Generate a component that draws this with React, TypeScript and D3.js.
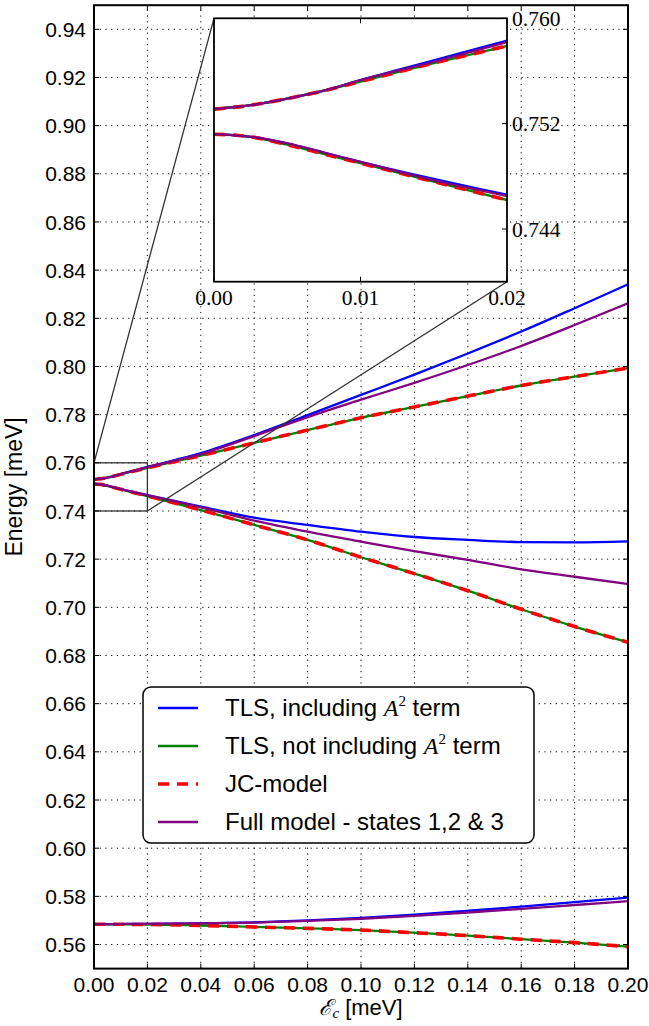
import React, { useEffect } from 'react';
import * as d3 from 'd3';

const xs = [0, 0.0025, 0.005, 0.0075, 0.01, 0.015, 0.02, 0.04, 0.06, 0.08, 0.10, 0.12, 0.14, 0.16, 0.18, 0.20];

// TLS, including A^2 term (blue)
const tlsA2Upper = [0.7531, 0.7534, 0.7539, 0.7545, 0.7553, 0.7568, 0.7583, 0.7640, 0.7715, 0.7798, 0.7882, 0.7966, 0.8054, 0.8145, 0.8242, 0.8341];
const tlsA2Lower = [0.7512, 0.7510, 0.7505, 0.7498, 0.7491, 0.7478, 0.7466, 0.7418, 0.7372, 0.7342, 0.7314, 0.7292, 0.7280, 0.7271, 0.7270, 0.7274];
const tlsA2Ground = [0.5685, 0.5685, 0.5685, 0.5685, 0.5685, 0.5686, 0.5686, 0.5688, 0.5692, 0.5700, 0.5711, 0.5724, 0.5740, 0.5757, 0.5776, 0.5795];

// TLS, not including A^2 term (green)
const tlsUpper = [0.7531, 0.7534, 0.7539, 0.7545, 0.7552, 0.7566, 0.7579, 0.7630, 0.7683, 0.7736, 0.7787, 0.7832, 0.7877, 0.7921, 0.7958, 0.7993];
const tlsLower = [0.7512, 0.7510, 0.7504, 0.7497, 0.7490, 0.7476, 0.7462, 0.7404, 0.7342, 0.7280, 0.7208, 0.7140, 0.7069, 0.6992, 0.6920, 0.6855];
const tlsGround = [0.5684, 0.5684, 0.5684, 0.5684, 0.5684, 0.5683, 0.5683, 0.5679, 0.5673, 0.5667, 0.5660, 0.5649, 0.5637, 0.5622, 0.5608, 0.5591];

// JC-model (red dashed)
const jcUpper = [0.7531, 0.7534, 0.7539, 0.7545, 0.7552, 0.7566, 0.7579, 0.7630, 0.7683, 0.7736, 0.7787, 0.7832, 0.7877, 0.7921, 0.7958, 0.7993];
const jcLower = [0.7512, 0.7510, 0.7504, 0.7497, 0.7490, 0.7476, 0.7462, 0.7404, 0.7342, 0.7280, 0.7208, 0.7140, 0.7069, 0.6992, 0.6920, 0.6855];
const jcGround = [0.5684, 0.5684, 0.5684, 0.5684, 0.5684, 0.5683, 0.5683, 0.5679, 0.5673, 0.5667, 0.5660, 0.5649, 0.5637, 0.5622, 0.5608, 0.5591];

// Full model - states 1,2 & 3 (purple)
const fullUpper = [0.7531, 0.7534, 0.7539, 0.7545, 0.7553, 0.7567, 0.7582, 0.7636, 0.7711, 0.7790, 0.7862, 0.7932, 0.8006, 0.8085, 0.8172, 0.8262];
const fullLower = [0.7512, 0.7510, 0.7505, 0.7498, 0.7491, 0.7477, 0.7465, 0.7415, 0.7360, 0.7314, 0.7273, 0.7233, 0.7197, 0.7158, 0.7127, 0.7097];
const fullGround = [0.5685, 0.5685, 0.5685, 0.5685, 0.5685, 0.5686, 0.5686, 0.5688, 0.5691, 0.5698, 0.5707, 0.5719, 0.5733, 0.5748, 0.5764, 0.5780];

const xTicks = [0, 0.02, 0.04, 0.06, 0.08, 0.10, 0.12, 0.14, 0.16, 0.18, 0.20];
const yTicks = [0.56, 0.58, 0.60, 0.62, 0.64, 0.66, 0.68, 0.70, 0.72, 0.74, 0.76, 0.78, 0.80, 0.82, 0.84, 0.86, 0.88, 0.90, 0.92, 0.94];
const insetXTicks = [0, 0.01, 0.02];
const insetYTicks = [0.744, 0.752, 0.760];

const W = 649, H = 1026;
const sans = '"Liberation Sans", Arial, Helvetica, sans-serif';
const serif = '"Liberation Serif", "DejaVu Serif", serif';

const series = [
  { label: 'blue', color: '#0000ff', width: 2.3, dash: null, data: [tlsA2Upper, tlsA2Lower, tlsA2Ground] },
  { label: 'green', color: '#008000', width: 2.3, dash: null, data: [tlsUpper, tlsLower, tlsGround] },
  { label: 'red', color: '#ff0000', width: 3.6, dash: '11 8', data: [jcUpper, jcLower, jcGround] },
  { label: 'purple', color: '#800080', width: 2.3, dash: null, data: [fullUpper, fullLower, fullGround] },
];

const App = () => {
  useEffect(() => {
    document.body.style.margin = '0';
  }, []);

  // main axes
  const x = d3.scaleLinear().domain([0, 0.2]).range([94, 628]);
  const y = d3.scaleLinear().domain([0.55, 0.95]).range([968.6, 5.2]);
  // inset axes
  const ix = d3.scaleLinear().domain([0, 0.02]).range([214, 507]);
  const iy = d3.scaleLinear().domain([0.74, 0.76]).range([281.7, 18.3]);

  const line = (sx, sy) => d3.line<number>()
    .x((_, i) => sx(xs[i]))
    .y(d => sy(d))
    .curve(d3.curveMonotoneX);
  const mainLine = line(x, y);
  const insetLine = line(ix, iy);

  const [x0, x1] = x.range();
  const [y0, y1] = y.range(); // y0 bottom, y1 top
  const tk = 5;

  const drawSeries = (gen, key) => series.map(s => s.data.map((d, j) => (
    <path key={`${key}-${s.label}-${j}`} d={gen(d)} fill="none" stroke={s.color}
      strokeWidth={s.width} strokeDasharray={s.dash || undefined} />
  )));

  const legendRows = [
    { color: '#0000ff', dash: null, w: 2.3 },
    { color: '#008000', dash: null, w: 2.3 },
    { color: '#ff0000', dash: '11 8', w: 3.6 },
    { color: '#800080', dash: null, w: 2.3 },
  ];
  const legTop = 687, rowH = 38, legX = 143;

  return (
    <svg width={W} height={H} style={{ display: 'block', background: '#fff' }}>
      <defs>
        <clipPath id="mainClip"><rect x={x0} y={y1} width={x1 - x0} height={y0 - y1} /></clipPath>
        <clipPath id="insetClip"><rect x={ix.range()[0]} y={iy.range()[1]} width={ix.range()[1] - ix.range()[0]} height={iy.range()[0] - iy.range()[1]} /></clipPath>
      </defs>

      {/* grid */}
      <g stroke="#000" strokeWidth={1} strokeDasharray="1.2 4.5">
        {xTicks.slice(1, -1).map(t => <line key={`gx${t}`} x1={x(t)} x2={x(t)} y1={y0} y2={y1} />)}
        {yTicks.map(t => <line key={`gy${t}`} x1={x0} x2={x1} y1={y(t)} y2={y(t)} />)}
      </g>

      {/* curves */}
      <g clipPath="url(#mainClip)">{drawSeries(mainLine, 'm')}</g>

      {/* zoomed region marker and connectors */}
      <g fill="none" stroke="#333" strokeWidth={1.3}>
        <rect x={x(0)} y={y(0.76)} width={x(0.02) - x(0)} height={y(0.74) - y(0.76)} />
        <line x1={x(0)} y1={y(0.76)} x2={ix(0)} y2={iy(0.76)} />
        <line x1={x(0.02)} y1={y(0.74)} x2={ix(0.02)} y2={iy(0.74)} />
      </g>

      {/* ticks main */}
      <g stroke="#000" strokeWidth={1}>
        {xTicks.map(t => (
          <g key={`tx${t}`}>
            <line x1={x(t)} x2={x(t)} y1={y0} y2={y0 - tk} />
            <line x1={x(t)} x2={x(t)} y1={y1} y2={y1 + tk} />
          </g>
        ))}
        {yTicks.map(t => (
          <g key={`ty${t}`}>
            <line x1={x0} x2={x0 + tk} y1={y(t)} y2={y(t)} />
            <line x1={x1} x2={x1 - tk} y1={y(t)} y2={y(t)} />
          </g>
        ))}
      </g>
      <rect x={x0} y={y1} width={x1 - x0} height={y0 - y1} fill="none" stroke="#000" strokeWidth={2} />

      {/* tick labels */}
      <g fontFamily={sans} fontSize={21} fill="#000">
        {xTicks.map(t => (
          <text key={`lx${t}`} x={x(t)} y={y0 + 23} textAnchor="middle">{d3.format('.2f')(t)}</text>
        ))}
        {yTicks.map(t => (
          <text key={`ly${t}`} x={x0 - 8} y={y(t)} dy="0.36em" textAnchor="end">{d3.format('.2f')(t)}</text>
        ))}
      </g>

      {/* axis titles */}
      <text transform={`translate(22,${(y0 + y1) / 2}) rotate(-90)`} textAnchor="middle" fontFamily={sans} fontSize={23}>Energy [meV]</text>
      <text x={(x0 + x1) / 2} y={y0 + 46} textAnchor="middle" fontFamily={sans} fontSize={22}>
        <tspan fontFamily={'"DejaVu Serif", serif'} fontStyle="italic">ℰ</tspan>
        <tspan fontFamily={serif} fontStyle="italic" fontSize={15} dy={3}>c</tspan>
        <tspan dy={-3}> [meV]</tspan>
      </text>

      {/* inset */}
      <rect x={ix(0)} y={iy(0.76)} width={ix(0.02) - ix(0)} height={iy(0.74) - iy(0.76)} fill="#fff" />
      <g clipPath="url(#insetClip)">{drawSeries(insetLine, 'i')}</g>
      <g stroke="#000" strokeWidth={1}>
        {insetXTicks.map(t => (
          <g key={`itx${t}`}>
            <line x1={ix(t)} x2={ix(t)} y1={iy(0.74)} y2={iy(0.74) - tk} />
            <line x1={ix(t)} x2={ix(t)} y1={iy(0.76)} y2={iy(0.76) + tk} />
          </g>
        ))}
        {insetYTicks.map(t => (
          <line key={`ity${t}`} x1={ix(0.02)} x2={ix(0.02) - tk} y1={iy(t)} y2={iy(t)} />
        ))}
      </g>
      <rect x={ix(0)} y={iy(0.76)} width={ix(0.02) - ix(0)} height={iy(0.74) - iy(0.76)} fill="none" stroke="#000" strokeWidth={1.8} />
      <g fontFamily={serif} fontSize={21.5} fill="#000">
        {insetXTicks.map(t => (
          <text key={`ilx${t}`} x={ix(t)} y={iy(0.74) + 23} textAnchor="middle">{d3.format('.2f')(t)}</text>
        ))}
        {insetYTicks.map(t => (
          <text key={`ily${t}`} x={ix(0.02) + 5} y={iy(t)} dy="0.35em" textAnchor="start">{d3.format('.3f')(t)}</text>
        ))}
      </g>

      {/* legend */}
      <rect x={legX} y={legTop} width={391} height={156} rx={8} fill="#fff" stroke="#000" strokeWidth={1.5} />
      {legendRows.map((r, i) => (
        <line key={`ll${i}`} x1={158} x2={198} y1={legTop + 21 + i * rowH} y2={legTop + 21 + i * rowH}
          stroke={r.color} strokeWidth={r.w} strokeDasharray={r.dash || undefined} />
      ))}
      <g fontFamily={sans} fontSize={24} fill="#000">
        <text x={225} y={legTop + 21 + 8}>
          TLS, including <tspan fontFamily={serif} fontStyle="italic">A</tspan><tspan fontFamily={serif} fontSize={15} dy={-10}>2</tspan><tspan dy={10}> term</tspan>
        </text>
        <text x={225} y={legTop + 21 + rowH + 8}>
          TLS, not including <tspan fontFamily={serif} fontStyle="italic">A</tspan><tspan fontFamily={serif} fontSize={15} dy={-10}>2</tspan><tspan dy={10}> term</tspan>
        </text>
        <text x={225} y={legTop + 21 + 2 * rowH + 8}>JC-model</text>
        <text x={225} y={legTop + 21 + 3 * rowH + 8}>Full model - states 1,2 &amp; 3</text>
      </g>
    </svg>
  );
};

export default App;
